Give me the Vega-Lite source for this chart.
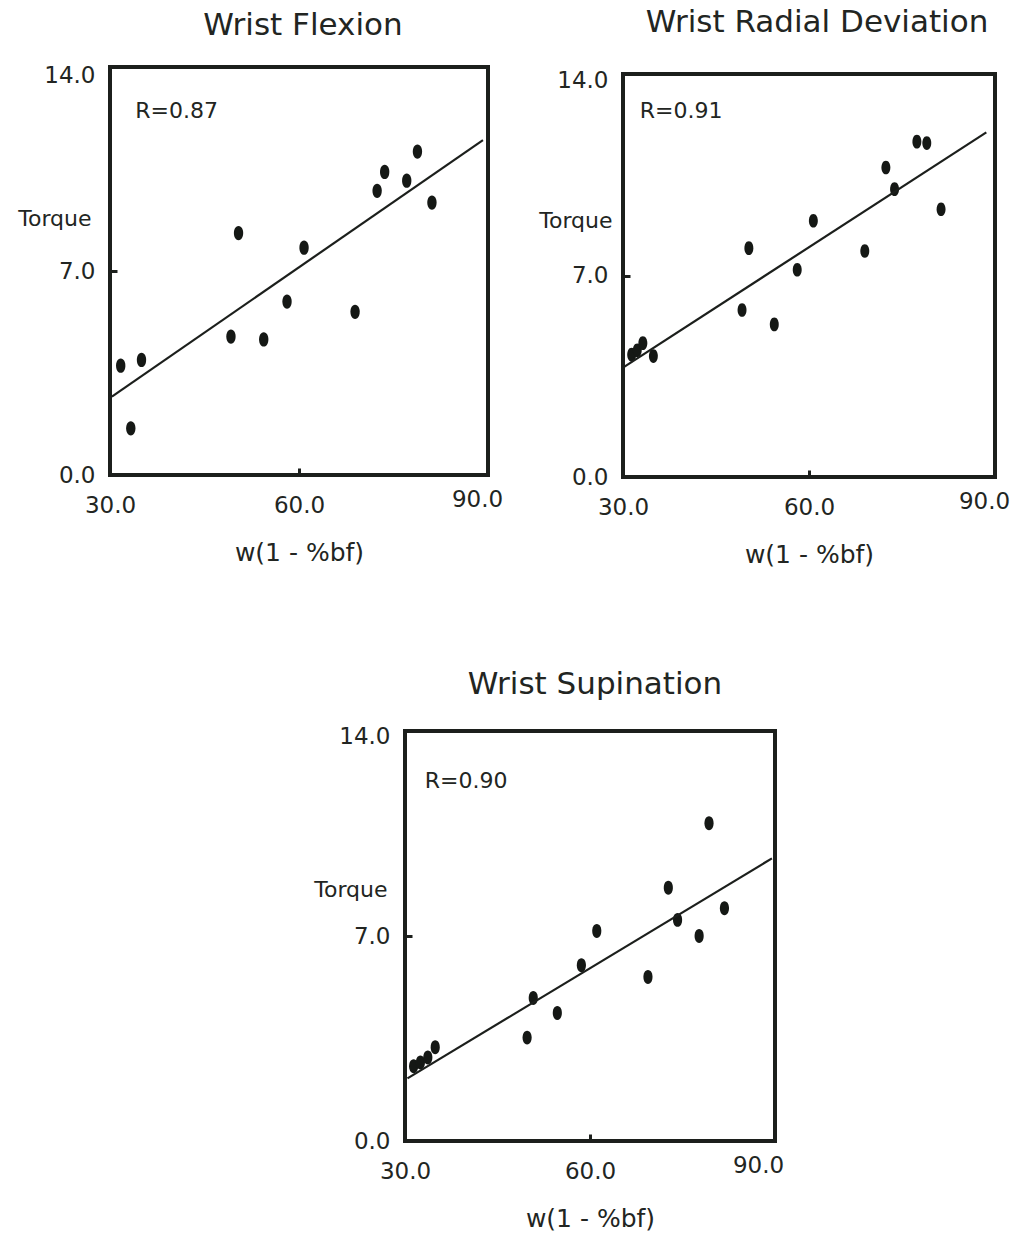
{
  "$schema": "https://vega.github.io/schema/vega-lite/v6.json",
  "background": "white",
  "padding": {"left": 15, "top": 5, "right": 5, "bottom": 5},
  "config": {
    "view": {"stroke": "#1c1f1c", "strokeWidth": 4},
    "font": "DejaVu Sans",
    "axis": {"domain": false, "grid": false, "ticks": true, "tickSize": -7, "tickWidth": 3, "tickColor": "#1c1f1c", "labelFontSize": 23, "labelColor": "#222522", "titleColor": "#222522", "titleFontWeight": "normal", "labelFont": "DejaVu Sans", "titleFont": "DejaVu Sans", "labelFlush": false},
    "title": {"fontSize": 31, "fontWeight": "normal", "color": "#222522", "font": "DejaVu Sans", "anchor": "middle"}
  },
  "datasets": {
    "points": [
      {"motion": "Flexion", "w": 31.7, "torque": 3.75},
      {"motion": "Flexion", "w": 35.0, "torque": 3.95},
      {"motion": "Flexion", "w": 33.3, "torque": 1.6},
      {"motion": "Flexion", "w": 49.2, "torque": 4.75},
      {"motion": "Flexion", "w": 50.4, "torque": 8.3},
      {"motion": "Flexion", "w": 54.4, "torque": 4.65},
      {"motion": "Flexion", "w": 58.1, "torque": 5.95},
      {"motion": "Flexion", "w": 60.8, "torque": 7.8},
      {"motion": "Flexion", "w": 68.9, "torque": 5.6},
      {"motion": "Flexion", "w": 72.4, "torque": 9.75},
      {"motion": "Flexion", "w": 73.6, "torque": 10.4},
      {"motion": "Flexion", "w": 77.1, "torque": 10.1},
      {"motion": "Flexion", "w": 78.8, "torque": 11.1},
      {"motion": "Flexion", "w": 81.1, "torque": 9.35},
      {"motion": "Radial", "w": 31.4, "torque": 4.25},
      {"motion": "Radial", "w": 32.3, "torque": 4.4},
      {"motion": "Radial", "w": 33.2, "torque": 4.65},
      {"motion": "Radial", "w": 34.9, "torque": 4.2},
      {"motion": "Radial", "w": 49.2, "torque": 5.8},
      {"motion": "Radial", "w": 50.3, "torque": 7.95},
      {"motion": "Radial", "w": 54.4, "torque": 5.3},
      {"motion": "Radial", "w": 58.1, "torque": 7.2},
      {"motion": "Radial", "w": 60.7, "torque": 8.9},
      {"motion": "Radial", "w": 69.0, "torque": 7.85},
      {"motion": "Radial", "w": 72.4, "torque": 10.75},
      {"motion": "Radial", "w": 73.8, "torque": 10.0},
      {"motion": "Radial", "w": 77.4, "torque": 11.65},
      {"motion": "Radial", "w": 79.0, "torque": 11.6},
      {"motion": "Radial", "w": 81.3, "torque": 9.3},
      {"motion": "Supination", "w": 31.4, "torque": 2.55},
      {"motion": "Supination", "w": 32.5, "torque": 2.68},
      {"motion": "Supination", "w": 33.7, "torque": 2.85},
      {"motion": "Supination", "w": 34.9, "torque": 3.2},
      {"motion": "Supination", "w": 49.8, "torque": 3.53},
      {"motion": "Supination", "w": 50.8, "torque": 4.88},
      {"motion": "Supination", "w": 54.7, "torque": 4.37},
      {"motion": "Supination", "w": 58.6, "torque": 6.0},
      {"motion": "Supination", "w": 61.1, "torque": 7.17},
      {"motion": "Supination", "w": 69.4, "torque": 5.6},
      {"motion": "Supination", "w": 72.7, "torque": 8.65},
      {"motion": "Supination", "w": 74.2, "torque": 7.55},
      {"motion": "Supination", "w": 77.7, "torque": 7.0},
      {"motion": "Supination", "w": 79.3, "torque": 10.85},
      {"motion": "Supination", "w": 81.8, "torque": 7.95}
    ],
    "fits": [
      {"motion": "Flexion", "w": 30.3, "torque": 2.69},
      {"motion": "Flexion", "w": 89.2, "torque": 11.49},
      {"motion": "Radial", "w": 30.0, "torque": 3.8},
      {"motion": "Radial", "w": 88.6, "torque": 11.97},
      {"motion": "Supination", "w": 30.4, "torque": 2.14},
      {"motion": "Supination", "w": 89.5, "torque": 9.65}
    ]
  },
  "vconcat": [
    {
      "hconcat": [
        {
          "width": 378, "height": 408,
          "title": {"text": "Wrist Flexion", "dx": 4, "offset": 22},
          "layer": [
            {
              "data": {"name": "points"},
              "transform": [{"filter": "datum.motion == 'Flexion'"}],
              "mark": {"type": "point", "shape": "M0,-1.3C0.6,-1.3 0.85,-0.6 0.85,0C0.85,0.6 0.6,1.3 0,1.3C-0.6,1.3 -0.85,0.6 -0.85,0C-0.85,-0.6 -0.6,-1.3 0,-1.3Z", "filled": true, "size": 120, "color": "#151815", "opacity": 1},
              "encoding": {
                "x": {"field": "w", "type": "quantitative", "scale": {"domain": [30, 90], "nice": false, "zero": false},
                  "axis": {"values": [30, 60, 90], "format": ".1f", "title": "w(1 - %bf)", "titleFontSize": 25, "titlePadding": 23,
                    "labelPadding": {"condition": {"test": "datum.value == 90", "value": 20}, "value": 26},
                    "labelOffset": {"condition": {"test": "datum.value == 90", "value": -11}, "value": 0}}},
                "y": {"field": "torque", "type": "quantitative", "scale": {"domain": [0, 14], "nice": false, "zero": true},
                  "axis": {"values": [0, 7, 14], "format": ".1f", "title": "Torque", "titleAngle": 0, "titleAlign": "right", "titleBaseline": "middle", "titleX": -19, "titleY": 151, "titleFontSize": 22, "labelPadding": 22,
                    "labelOffset": {"condition": {"test": "datum.value == 14", "value": 8}, "value": 0}}}
              }
            },
            {
              "data": {"name": "fits"},
              "transform": [{"filter": "datum.motion == 'Flexion'"}],
              "mark": {"type": "line", "color": "#1c1f1c", "strokeWidth": 2.2},
              "encoding": {"x": {"field": "w", "type": "quantitative"}, "y": {"field": "torque", "type": "quantitative"}}
            },
            {
              "data": {"values": [{"label": "R=0.87"}]},
              "mark": {"type": "text", "align": "left", "baseline": "middle", "fontSize": 22, "color": "#222522"},
              "encoding": {"x": {"datum": 34.0}, "y": {"datum": 12.5}, "text": {"field": "label"}}
            }
          ]
        },
        {
          "vconcat": [
            {"width": 1, "height": 7, "view": {"stroke": null}, "data": {"values": []}, "mark": "point", "encoding": {}},
            {
              "width": 372, "height": 403,
              "title": {"text": "Wrist Radial Deviation", "dx": 8, "offset": 30},
              "layer": [
                {
                  "data": {"name": "points"},
                  "transform": [{"filter": "datum.motion == 'Radial'"}],
                  "mark": {"type": "point", "shape": "M0,-1.3C0.6,-1.3 0.85,-0.6 0.85,0C0.85,0.6 0.6,1.3 0,1.3C-0.6,1.3 -0.85,0.6 -0.85,0C-0.85,-0.6 -0.6,-1.3 0,-1.3Z", "filled": true, "size": 110, "color": "#151815", "opacity": 1},
                  "encoding": {
                    "x": {"field": "w", "type": "quantitative", "scale": {"domain": [30, 90], "nice": false, "zero": false},
                      "axis": {"values": [30, 60, 90], "format": ".1f", "title": "w(1 - %bf)", "titleFontSize": 25, "titlePadding": 23,
                        "labelPadding": {"condition": {"test": "datum.value == 90", "value": 20}, "value": 26},
                        "labelOffset": {"condition": {"test": "datum.value == 90", "value": -11}, "value": 0}}},
                    "y": {"field": "torque", "type": "quantitative", "scale": {"domain": [0, 14], "nice": false, "zero": true},
                      "axis": {"values": [0, 7, 14], "format": ".1f", "title": "Torque", "titleAngle": 0, "titleAlign": "right", "titleBaseline": "middle", "titleX": -11, "titleY": 146, "titleFontSize": 22, "labelPadding": 22,
                        "labelOffset": {"condition": {"test": "datum.value == 14", "value": 6}, "value": 0}}}
                  }
                },
                {
                  "data": {"name": "fits"},
                  "transform": [{"filter": "datum.motion == 'Radial'"}],
                  "mark": {"type": "line", "color": "#1c1f1c", "strokeWidth": 2.2},
                  "encoding": {"x": {"field": "w", "type": "quantitative"}, "y": {"field": "torque", "type": "quantitative"}}
                },
                {
                  "data": {"values": [{"label": "R=0.91"}]},
                  "mark": {"type": "text", "align": "left", "baseline": "middle", "fontSize": 22, "color": "#222522"},
                  "encoding": {"x": {"datum": 32.7}, "y": {"datum": 12.7}, "text": {"field": "label"}}
                }
              ]
            }
          ],
          "spacing": 0,
          "bounds": "flush"
        }
      ],
      "spacing": 135,
      "bounds": "flush"
    },
    {
      "hconcat": [
        {"width": 295, "height": 1, "view": {"stroke": null}, "data": {"values": []}, "mark": "point", "encoding": {}},
        {
          "width": 370, "height": 410,
          "title": {"text": "Wrist Supination", "dx": 5, "offset": 24},
          "layer": [
            {
              "data": {"name": "points"},
              "transform": [{"filter": "datum.motion == 'Supination'"}],
              "mark": {"type": "point", "shape": "M0,-1.3C0.6,-1.3 0.85,-0.6 0.85,0C0.85,0.6 0.6,1.3 0,1.3C-0.6,1.3 -0.85,0.6 -0.85,0C-0.85,-0.6 -0.6,-1.3 0,-1.3Z", "filled": true, "size": 115, "color": "#151815", "opacity": 1},
              "encoding": {
                "x": {"field": "w", "type": "quantitative", "scale": {"domain": [30, 90], "nice": false, "zero": false},
                  "axis": {"values": [30, 60, 90], "format": ".1f", "title": "w(1 - %bf)", "titleFontSize": 25, "titlePadding": 23,
                    "labelPadding": {"condition": {"test": "datum.value == 90", "value": 20}, "value": 26},
                    "labelOffset": {"condition": {"test": "datum.value == 90", "value": -17}, "value": 0}}},
                "y": {"field": "torque", "type": "quantitative", "scale": {"domain": [0, 14], "nice": false, "zero": true},
                  "axis": {"values": [0, 7, 14], "format": ".1f", "title": "Torque", "titleAngle": 0, "titleAlign": "right", "titleBaseline": "middle", "titleX": -18, "titleY": 158, "titleFontSize": 22, "labelPadding": 22,
                    "labelOffset": {"condition": {"test": "datum.value == 14", "value": 5}, "value": 0}}}
              }
            },
            {
              "data": {"name": "fits"},
              "transform": [{"filter": "datum.motion == 'Supination'"}],
              "mark": {"type": "line", "color": "#1c1f1c", "strokeWidth": 2.2},
              "encoding": {"x": {"field": "w", "type": "quantitative"}, "y": {"field": "torque", "type": "quantitative"}}
            },
            {
              "data": {"values": [{"label": "R=0.90"}]},
              "mark": {"type": "text", "align": "left", "baseline": "middle", "fontSize": 22, "color": "#222522"},
              "encoding": {"x": {"datum": 33.2}, "y": {"datum": 12.3}, "text": {"field": "label"}}
            }
          ]
        }
      ],
      "spacing": 0,
      "bounds": "flush"
    }
  ],
  "spacing": 664,
  "bounds": "flush"
}
